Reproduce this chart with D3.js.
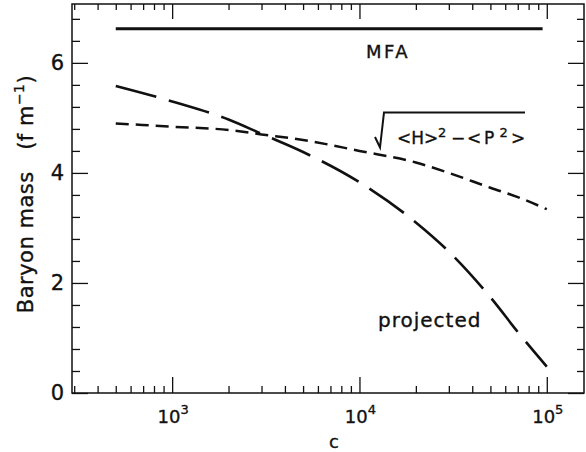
<!DOCTYPE html>
<html>
<head>
<meta charset="utf-8">
<script src="https://cdn.jsdelivr.net/npm/d3@7"></script>
<style>
  html, body { margin: 0; padding: 0; background: #fff; }
  svg { display: block; font-family: "DejaVu Sans", sans-serif; }
  .tick line { stroke: #111; stroke-width: 1.3; }
  text { stroke: #111; stroke-width: 0.35px; }
</style>
</head>
<body>
<svg id="chart" width="586" height="452"></svg>
<script>
// Baryon mass vs c
const cValues = [500, 1000, 2000, 3000, 5000, 10000, 20000, 30000, 50000, 70000, 100000];
const projected = [5.58, 5.30, 4.97, 4.71, 4.38, 3.83, 3.10, 2.57, 1.74, 1.11, 0.48];
const sqrtHP = [4.90, 4.84, 4.78, 4.70, 4.60, 4.40, 4.19, 4.00, 3.73, 3.56, 3.34];
const mfaC = [500, 95000];
const mfa = [6.62, 6.62];

const yMajor = [0, 2, 4, 6];
const yMinor = [0.4, 0.8, 1.2, 1.6, 2.4, 2.8, 3.2, 3.6, 4.4, 4.8, 5.2, 5.6, 6.4, 6.8];
const xMajor = [1e3, 1e4, 1e5];
const xMajorExp = ["3", "4", "5"];

const W = 586, H = 452;
const margin = { left: 72, right: 2, top: 4, bottom: 59 };

const svg = d3.select("#chart");

const x = d3.scaleLog()
    .domain([292, 158000])
    .range([margin.left, W - margin.right]);

const y = d3.scaleLinear()
    .domain([0, 7.07])
    .range([H - margin.bottom, margin.top]);

// minor x ticks, only inside the domain
const xMinor = [];
[100, 1000, 10000, 100000].forEach(d => {
    for (let k = 2; k <= 9; k++) {
        const v = d * k;
        if (v > x.domain()[0] && v < x.domain()[1]) xMinor.push(v);
    }
});

const x0 = x.range()[0], x1 = x.range()[1];
const y0 = y.range()[0], y1 = y.range()[1];

// ----- axes (ticks pointing inward) -----
function addAxis(axis, transform) {
    const g = svg.append("g").attr("transform", transform).call(axis);
    g.select(".domain").remove();
    return g;
}

// left
addAxis(d3.axisLeft(y).tickValues(yMajor).tickSizeInner(-16).tickSizeOuter(0).tickPadding(8)
    .tickFormat(d3.format("d")), `translate(${x0},0)`)
    .selectAll("text")
    .attr("font-size", "21px")
    .attr("fill", "#111")
    .attr("font-family", "DejaVu Sans, sans-serif");
addAxis(d3.axisLeft(y).tickValues(yMinor).tickSizeInner(-8).tickSizeOuter(0).tickFormat(""),
    `translate(${x0},0)`);

// right
addAxis(d3.axisRight(y).tickValues(yMajor).tickSizeInner(-16).tickSizeOuter(0).tickFormat(""),
    `translate(${x1},0)`);
addAxis(d3.axisRight(y).tickValues(yMinor).tickSizeInner(-7).tickSizeOuter(0).tickFormat(""),
    `translate(${x1},0)`);

// bottom
addAxis(d3.axisBottom(x).tickValues(xMajor).tickSizeInner(-16).tickSizeOuter(0).tickFormat(""),
    `translate(0,${y0})`);
addAxis(d3.axisBottom(x).tickValues(xMinor).tickSizeInner(-7).tickSizeOuter(0).tickFormat(""),
    `translate(0,${y0})`);

// top
addAxis(d3.axisTop(x).tickValues(xMajor).tickSizeInner(-15).tickSizeOuter(0).tickFormat(""),
    `translate(0,${y1})`);
addAxis(d3.axisTop(x).tickValues(xMinor).tickSizeInner(-6).tickSizeOuter(0).tickFormat(""),
    `translate(0,${y1})`);

// frame
svg.append("rect")
    .attr("x", x0)
    .attr("y", y1)
    .attr("width", x1 - x0)
    .attr("height", y0 - y1)
    .attr("fill", "none")
    .attr("stroke", "#111")
    .attr("stroke-width", 1.5);

// x tick labels: 10^n
const xl = svg.append("g");
xMajor.forEach((v, i) => {
    const t = xl.append("text")
        .attr("x", x(v) + 1)
        .attr("y", 423)
        .attr("text-anchor", "middle")
        .attr("font-size", "18px")
        .attr("fill", "#111");
    t.append("tspan").text("10");
    t.append("tspan").attr("dy", -9).attr("font-size", "13px").text(xMajorExp[i]);
});

// axis titles
svg.append("text")
    .attr("x", 334)
    .attr("y", 448)
    .attr("text-anchor", "middle")
    .attr("font-size", "18px")
    .attr("fill", "#111")
    .text("c");

const yt = svg.append("text")
    .attr("transform", "translate(33,194) rotate(-90)")
    .attr("text-anchor", "middle")
    .attr("font-size", "21px")
    .attr("letter-spacing", "0.5px")
    .attr("fill", "#111");
yt.append("tspan").text("Baryon mass\u00a0\u00a0\u00a0(f m");
yt.append("tspan").attr("dy", -9).attr("font-size", "14px").text("\u22121");
yt.append("tspan").attr("dy", 9).text(")");

// ----- curves -----
const line = d3.line()
    .x(d => x(d[0]))
    .y(d => y(d[1]))
    .curve(d3.curveMonotoneX);

svg.append("path")
    .datum(mfaC.map((c, i) => [c, mfa[i]]))
    .attr("d", line)
    .attr("fill", "none")
    .attr("stroke", "#111")
    .attr("stroke-width", 3);

svg.append("path")
    .datum(cValues.map((c, i) => [c, projected[i]]))
    .attr("d", line)
    .attr("fill", "none")
    .attr("stroke", "#111")
    .attr("stroke-width", 2.6)
    .attr("stroke-dasharray", "42,13");

svg.append("path")
    .datum(cValues.map((c, i) => [c, sqrtHP[i]]))
    .attr("d", line)
    .attr("fill", "none")
    .attr("stroke", "#111")
    .attr("stroke-width", 2.5)
    .attr("stroke-dasharray", "13,7");

// ----- curve labels -----
svg.append("text")
    .attr("x", 366)
    .attr("y", 57.5)
    .attr("font-size", "18px")
    .attr("letter-spacing", "2.5px")
    .attr("fill", "#111")
    .text("MFA");

svg.append("text")
    .attr("x", 378)
    .attr("y", 327)
    .attr("font-size", "20px")
    .attr("letter-spacing", "1px")
    .attr("fill", "#111")
    .text("projected");

// sqrt( <H>^2 - <P^2> )
svg.append("path")
    .attr("d", "M375,137 L380,147.5 L384,112.5 L525,112.5")
    .attr("fill", "none")
    .attr("stroke", "#111")
    .attr("stroke-width", 2);

const sq = svg.append("text")
    .attr("y", 144.3)
    .attr("font-size", "17px")
    .attr("fill", "#111");
sq.append("tspan").attr("x", 397).text("<H>");
sq.append("tspan").attr("x", 438).attr("dy", -7.5).attr("font-size", "13px").text("2");
sq.append("tspan").attr("x", 451).attr("dy", 7.5).text("\u2212");
sq.append("tspan").attr("x", 467).text("<");
sq.append("tspan").attr("x", 484).text("P");
sq.append("tspan").attr("x", 499.5).attr("dy", -7.5).attr("font-size", "13px").text("2");
sq.append("tspan").attr("x", 511).attr("dy", 7.5).text(">");
</script>
</body>
</html>
